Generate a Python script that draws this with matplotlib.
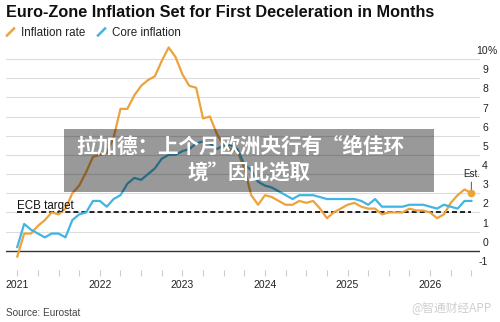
import matplotlib
matplotlib.use("Agg")
import matplotlib.pyplot as plt
import matplotlib.transforms as mtransforms
from matplotlib.patches import Rectangle
import numpy as np

plt.rcParams['font.family'] = ['Liberation Sans', 'DejaVu Sans']
plt.rcParams['lines.scale_dashes'] = False

title = "Euro-Zone Inflation Set for First Deceleration in Months"
legend_labels = ["Inflation rate", "Core inflation"]
year_labels = ["2021", "2022", "2023", "2024", "2025", "2026"]
y_ticks = [-1, 0, 1, 2, 3, 4, 5, 6, 7, 8, 9, 10]
y_tick_labels = ["-1", "0", "1", "2", "3", "4", "5", "6", "7", "8", "9", "10"]
ecb_target = 2
source = "Source: Eurostat"
banner_lines = ["拉加德：上个月欧洲央行有“绝佳环", "境”因此选取"]
watermark = "@智通财经APP"

# monthly values, first = Dec 2020
inflation = [-0.3,
             0.9, 0.9, 1.3, 1.6, 2.0, 1.9, 2.2, 3.0, 3.4, 4.1, 4.9, 5.0,
             5.1, 5.9, 7.4, 7.4, 8.1, 8.6, 8.9, 9.1, 9.9, 10.6, 10.1, 9.2,
             8.6, 8.5, 6.9, 7.0, 6.1, 5.5, 5.3, 5.2, 4.3, 2.9, 2.4, 2.9,
             2.8, 2.6, 2.4, 2.4, 2.6, 2.5, 2.6, 2.2, 1.7, 2.0, 2.2, 2.4,
             2.5, 2.3, 2.2, 2.2, 1.9, 2.0, 2.0, 2.0, 2.2, 2.1, 2.1, 2.0,
             1.7, 1.9, 2.5, 2.9, 3.2, 3.0]
core = [0.2,
        1.4, 1.1, 0.9, 0.7, 0.9, 0.9, 0.7, 1.6, 1.9, 2.0, 2.6, 2.6,
        2.3, 2.7, 2.9, 3.5, 3.8, 3.7, 4.0, 4.3, 4.8, 5.0, 5.0, 5.2,
        5.3, 5.6, 5.7, 5.6, 5.3, 5.5, 5.5, 5.3, 4.5, 4.2, 3.6, 3.4,
        3.3, 3.1, 2.9, 2.7, 2.9, 2.9, 2.9, 2.8, 2.7, 2.7, 2.7, 2.7,
        2.7, 2.6, 2.4, 2.7, 2.3, 2.3, 2.3, 2.3, 2.4, 2.4, 2.4, 2.3,
        2.2, 2.4, 2.3, 2.2, 2.6, 2.6]

ORANGE = '#EDA23C'
BLUE = '#40B5E3'

W, H = 500, 322
fig = plt.figure(figsize=(W / 100, H / 100), dpi=100)
fig.patch.set_facecolor('white')

def fx(px):
    return px / W

def fy(py):
    return 1 - py / H

ax_left, ax_right, ax_top, ax_bot = 6, 480, 41.7, 270
ax = fig.add_axes([fx(ax_left), fy(ax_bot), fx(ax_right - ax_left), (ax_bot - ax_top) / H])
x = np.arange(len(inflation))
ax.set_xlim(-1.64, 67.25)
ax.set_ylim(-1, 10.9)
for s in ax.spines.values():
    s.set_visible(False)

for yv in y_ticks:
    if yv == 0:
        ax.axhline(yv, color='#333333', lw=1.0, zorder=1)
    else:
        ax.axhline(yv, color='#dddddd', lw=0.8, zorder=0)

ax.set_yticks([])
lab_tr = mtransforms.blended_transform_factory(ax.transAxes, ax.transData)
off = mtransforms.ScaledTranslation(0, 5 / 100, fig.dpi_scale_trans)
xr = (488 - ax_left) / (ax_right - ax_left)
for yv, lab in zip(y_ticks, y_tick_labels):
    ax.text(xr, yv, lab, transform=lab_tr + off, ha='right', va='baseline',
            fontsize=7.5, color='#222222')
    if yv == 10:
        ax.text(xr, yv, "%", transform=lab_tr + off, ha='left', va='baseline',
                fontsize=7.5, color='#222222')

major = [0, 12, 24, 36, 48, 60]
ax.set_xticks(major)
ax.set_xticklabels(year_labels, fontsize=7.5, color='#222222')
ax.set_xticks([m for m in range(0, 67, 3) if m not in major], minor=True)
ax.tick_params(axis='x', which='both', length=4, width=0.8, color='#cccccc', pad=3.5)

ax.plot(x, inflation, color=ORANGE, lw=1.6, zorder=3, solid_joinstyle='round')
ax.plot(x, core, color=BLUE, lw=1.6, zorder=4, solid_joinstyle='round')
ax.plot([0, len(x) - 1], [ecb_target, ecb_target], color='#111111', lw=1.3,
        dashes=(3.6, 2.2), zorder=2)
ax.text(0, ecb_target, "ECB target", transform=ax.transData +
        mtransforms.ScaledTranslation(0, 3.5 / 100, fig.dpi_scale_trans),
        ha='left', va='baseline', fontsize=8.3, color='#111111')

ax.plot([x[-1]], [inflation[-1]], 'o', color=ORANGE, ms=4.5, zorder=5)
ax.annotate("Est.", xy=(x[-1], inflation[-1]), xytext=(0, 10), textcoords='offset points',
            ha='center', va='bottom', fontsize=7, color='#222222',
            arrowprops=dict(arrowstyle='-', color='#666666', lw=0.8, shrinkA=0, shrinkB=2.5))

# title & legend
fig.text(fx(6), fy(17.3), title, fontsize=11.7, fontweight='bold', ha='left',
         va='baseline', color='#111111')
for (x0, lab, col, tx) in [(7, legend_labels[0], ORANGE, 21), (98, legend_labels[1], BLUE, 112)]:
    fig.add_artist(plt.Line2D([fx(x0), fx(x0 + 7)], [fy(35.5), fy(28.5)], color=col, lw=1.8))
    fig.text(fx(tx), fy(36), lab, fontsize=8.4, ha='left', va='baseline', color='#222222')

fig.text(fx(6), fy(316), source, fontsize=7.2, ha='left', va='baseline', color='#444444')
fig.text(fx(492), fy(311.5), watermark, fontsize=8.5, ha='right', va='baseline',
         color='#cfcfcf', family=['Noto Sans CJK SC', 'DejaVu Sans'])

# banner overlay
fig.add_artist(Rectangle((fx(64), fy(192)), fx(434 - 64), (192 - 129) / H,
                         transform=fig.transFigure, facecolor='black', alpha=0.4,
                         edgecolor='none', zorder=10))
fig.text(fx(240), fy(146), banner_lines[0], fontsize=14.8, fontweight='bold', ha='center',
         va='center', color='white', family=['Noto Sans CJK SC', 'DejaVu Sans'], zorder=11)
fig.text(fx(249), fy(172), banner_lines[1], fontsize=14.8, fontweight='bold', ha='center',
         va='center', color='white', family=['Noto Sans CJK SC', 'DejaVu Sans'], zorder=11)

fig.savefig("out.png", dpi=100)
